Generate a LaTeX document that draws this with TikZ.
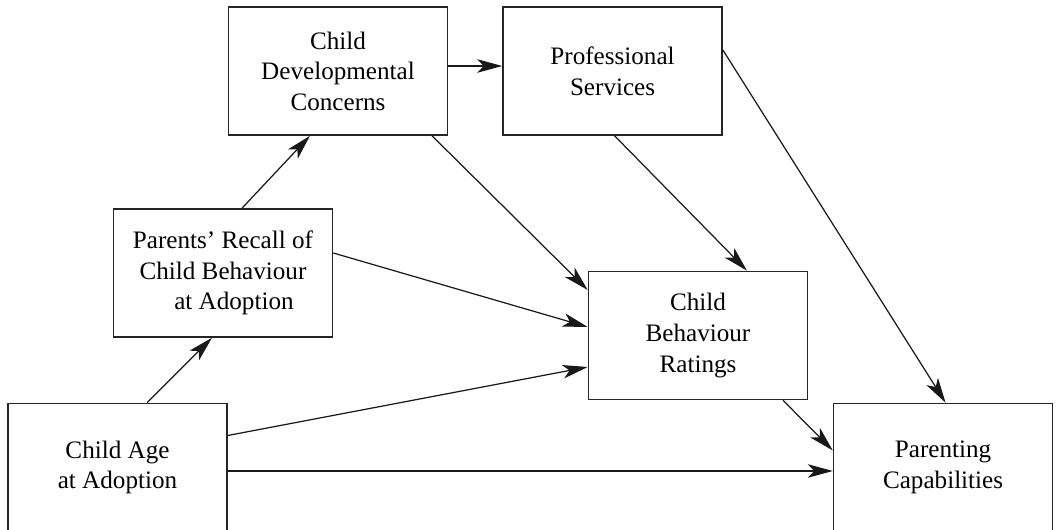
\documentclass[tikz,border=0pt]{standalone}
\usepackage{fontspec}
\setmainfont{Liberation Serif}
\usepackage{tikz}
\usetikzlibrary{shapes,arrows,positioning,calc,arrows.meta}

\begin{document}
\begin{tikzpicture}[
    box/.style={draw=black!85, line width=0.9pt, rectangle, minimum width=4.38cm, minimum height=2.56cm, align=center, inner sep=0pt, font=\fontsize{14.3}{17.4}\selectfont},
    link/.style={-{Stealth[length=0.5cm, width=0.27cm, inset=0.13cm]}, line width=0.7pt, black!90}
]
    \useasboundingbox (0,0) rectangle (21.12,-10.6);

    \node (cdc) [box] at (6.76,-1.42) {Child\\Developmental\\Concerns};
    \node (ps) [box, right=1.08cm of cdc] {Professional\\Services};
    \node (pr) [box] at (4.46,-5.46) {Parents' Recall of\\Child Behaviour\\\hspace*{0.44cm}at Adoption};
    \node (cbr) [box] at (13.96,-6.71) {Child\\Behaviour\\Ratings};
    \node (caa) [box] at (2.35,-9.35) {Child Age\\at Adoption};
    \node (pc) [box, right=12.1cm of caa] {Parenting\\Capabilities};

    \draw[link] ([yshift=0.1cm]cdc.east) -- ([yshift=0.1cm]ps.west);
    \draw[link] ([xshift=0.38cm]pr.north) -- ([xshift=-0.56cm]cdc.south);
    \draw[link] ([xshift=0.59cm]caa.north) -- ([xshift=-0.22cm]pr.south);

    \draw[link] ([xshift=1.88cm]cdc.south) -- ([yshift=0.91cm]cbr.west);
    \draw[link] ([yshift=0.4cm]pr.east) -- ([yshift=0.17cm]cbr.west);
    \draw[link] ([xshift=0.04cm]ps.south) -- ([xshift=0.98cm]cbr.north);
    \draw[link] ([yshift=0.64cm]caa.east) -- ([yshift=-0.63cm]cbr.west);

    \draw[link] ([yshift=0.42cm]ps.east) -- ([xshift=0.05cm]pc.north);
    \draw[link] ([xshift=1.7cm]cbr.south) -- ([yshift=0.34cm]pc.west);
    \draw[link] ([yshift=-0.07cm]caa.east) -- ([yshift=-0.07cm]pc.west);
\end{tikzpicture}
\end{document}
